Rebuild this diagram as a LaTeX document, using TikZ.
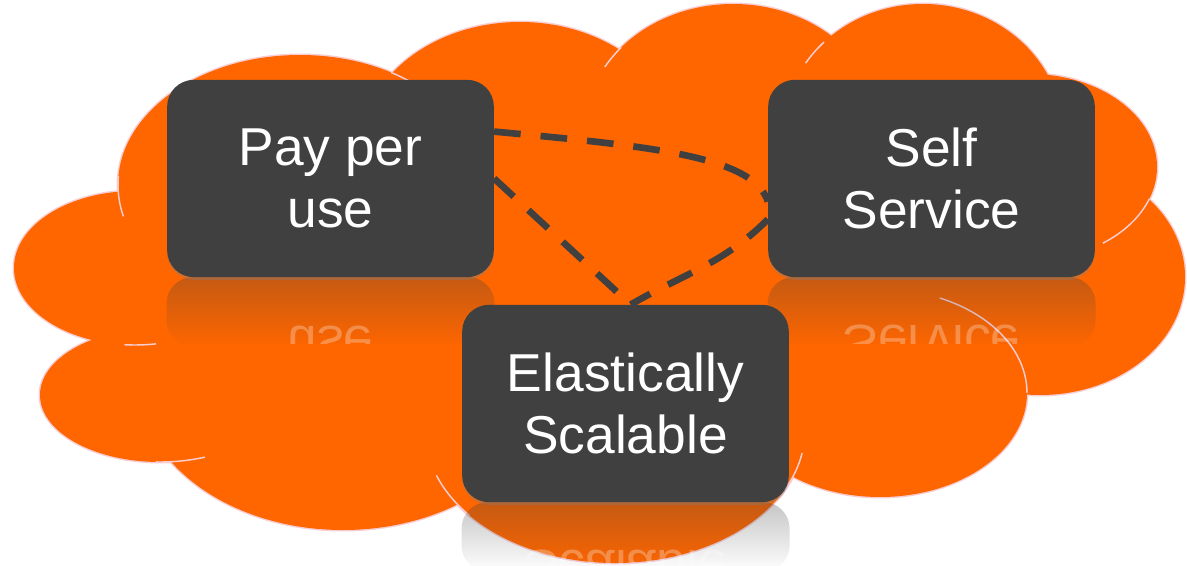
\documentclass[tikz,border=0pt]{standalone}
\usepackage{xcolor}
\definecolor{ff6600}{HTML}{ff6600}
\definecolor{404040}{HTML}{404040}
\definecolor{f7cdd2}{HTML}{f7cdd2}
\usepackage{fontspec}
\setmainfont{Liberation Sans}
\usepackage{tikz}
\usetikzlibrary{fadings}
\usetikzlibrary{shadows}

\begin{document}
\begin{tikzpicture}[x=0.75pt, y=0.75pt,
    box/.style={fill=404040, text=white, rounded corners=20pt, minimum width=245pt, minimum height=148pt,
        align=center, font=\fontsize{40}{47}\selectfont,
        drop shadow={shadow xshift=0pt, shadow yshift=-2pt, opacity=.35}},
    echo/.style={text=white, text opacity=.28, align=center, font=\fontsize{40}{47}\selectfont},
    link/.style={draw=404040, line width=5pt, dash pattern=on 20pt off 15pt}]
            \useasboundingbox (0, 0) rectangle (1187, 565);

            % cloud: outline first, then the fill over it
            \foreach \cx/\cy/\rx/\ry in {300/380/182/130, 135/297/121/77, 160/170/120/67, 343/185/205/150,
                615/135/190/133, 880/172/147/104, 1040/288/145/118, 1030/398/127/93,
                923/431/140/130, 733/435/148/126, 520/415/160/128}
                \draw [color=f7cdd2, line width=2.2pt] (\cx, \cy) ellipse [x radius=\rx, y radius=\ry];
            \foreach \cx/\cy/\rx/\ry in {300/380/182/130, 135/297/121/77, 160/170/120/67, 343/185/205/150,
                615/135/190/133, 880/172/147/104, 1040/288/145/118, 1030/398/127/93,
                923/431/140/130, 733/435/148/126, 520/415/160/128, 620/265/400/180}
                \fill [color=ff6600] (\cx, \cy) ellipse [x radius=\rx, y radius=\ry];
            \foreach \cx/\cy/\rx/\ry/\a/\b in {300/380/182/130/176/194, 160/170/120/67/268/292,
                135/297/121/77/265/280, 615/135/190/133/200/220, 880/172/147/104/0/66,
                1030/398/127/93/305/340, 923/431/140/130/135/147, 733/435/148/126/139/150,
                300/380/182/130/45/60, 615/135/190/133/333/350}
                \draw [color=f7cdd2, line width=1.1pt] ({\cx + \rx*cos(\a)}, {\cy + \ry*sin(\a)})
                    arc [start angle=\a, end angle=\b, x radius=\rx, y radius=\ry];

            % reflections under the boxes
            \foreach \n/\cx/\yb/\txt in {pay/330.5/288/{Pay per\\use}, self/931.5/288/{Self\\Service},
                elastic/625.5/63/{Elastically\\Scalable}} {
                \begin{scope}
                    \clip (\cx - 164, \yb - 66) rectangle (\cx + 164, \yb);
                    \fill [color=404040, fill opacity=.3, path fading=south, rounded corners=20pt]
                        (\cx - 164, \yb - 70) rectangle (\cx + 164, \yb);
                    \node [echo, yscale=-1] (\n echo) at (\cx, \yb - 98.5) {\txt};
                \end{scope}
            }

            \node [box] (pay) at (330.5, 386.5) {Pay per\\use};
            \node [box] (self) at (931.5, 386.5) {Self\\Service};
            \node [box] (elastic) at (625.5, 161.5) {Elastically\\Scalable};

            \draw [link] (pay.16) .. controls +(160, -15) and +(-15, 45) .. (self.188);
            \draw [link] (self.194) to [out=225, in=30] (elastic.87);
            \draw [link] (pay.east) -- (elastic.87);
        \end{tikzpicture}
\end{document}
